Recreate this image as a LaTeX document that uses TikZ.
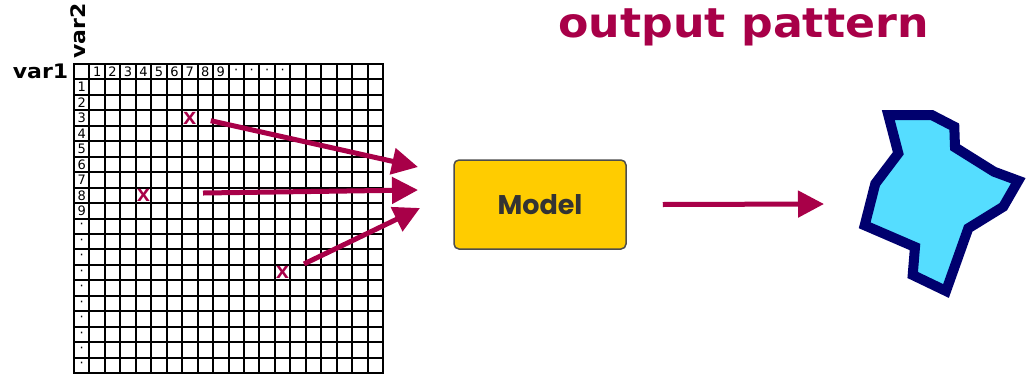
\documentclass[tikz,border=0pt]{standalone}
\usepackage{fontspec}
\usepackage{tikz}
\usetikzlibrary{arrows.meta, positioning}
\newfontfamily\dejavu{DejaVu Sans}
\newfontfamily\poppins{Poppins}
\newfontfamily\monofont{Liberation Mono}
\definecolor{crimson}{RGB}{168,0,72}
\definecolor{gold}{RGB}{255,204,0}
\definecolor{navy}{RGB}{0,0,110}
\definecolor{skyfill}{RGB}{85,221,255}
\definecolor{boxline}{RGB}{77,77,77}
\definecolor{textgray}{RGB}{51,51,51}

\begin{document}
\begin{tikzpicture}[x=1pt, y=-1pt,
    gridline/.style={line width=2pt, line cap=rect},
    cellnum/.style={font=\dejavu\fontsize{13}{13}\selectfont, inner sep=0pt},
    xmark/.style={text=crimson, font=\monofont\bfseries\fontsize{23}{23}\selectfont, inner sep=0pt},
    varlabel/.style={font=\dejavu\bfseries\fontsize{20}{20}\selectfont, inner sep=0pt, anchor=base},
    flow/.style={crimson, line width=5pt, -{Triangle[length=26pt, width=26pt]}},
    modelbox/.style={draw=boxline, fill=gold, line width=1.5pt, rounded corners=5pt,
        minimum width=172pt, minimum height=89pt, text=textgray,
        font=\poppins\bfseries\fontsize{27}{27}\selectfont}
]
    \useasboundingbox (0,0) rectangle (1029,378);

    % 1. Titel und Achsen
    \node[crimson, font=\dejavu\bfseries\fontsize{41}{41}\selectfont, inner sep=0pt, anchor=base]
        (title) at (743.5,37) {\scalebox{1.08}[1]{output pattern}};
    \node[varlabel] (var1) at (40.5,78) {\scalebox{1.1}[1]{var1}};
    \node[varlabel, rotate=90] (var2) at (85,31) {\scalebox{1.1}[1]{var2}};

    % 2. Raster 20 x 20
    \begin{scope}[shift={(74,64)}, x=15.45pt, y=-15.45pt]
        \foreach \i in {0,...,20} {
            \draw[gridline] (\i,0) -- (\i,20);
            \draw[gridline] (0,\i) -- (20,\i);
        }
        \foreach \n in {1,...,9} {
            \node[cellnum] (top\n) at (\n+0.5,0.5) {\n};
            \node[cellnum] (side\n) at (0.5,\n+0.5) {\n};
        }
        \foreach \n in {10,...,13}
            \node[cellnum] (top\n) at (\n+0.5,0.5) {·};
        \foreach \n in {10,...,19}
            \node[cellnum] (side\n) at (0.5,\n+0.5) {·};

        % markierte Zellen
        \node[xmark] (xa) at (7.5,3.5) {x};
        \node[xmark] (xb) at (4.5,8.5) {x};
        \node[xmark] (xc) at (13.5,13.5) {x};

        \coordinate (sa) at (8.85,3.67);
        \coordinate (sb) at (8.35,8.35);
        \coordinate (sc) at (14.89,12.94);
    \end{scope}

    % 3. Modell
    \node[modelbox] (model) at (540,204.5) {Model};
    \coordinate (ta) at (418,167);
    \coordinate (tb) at (418,190);
    \coordinate (tc) at (420,208);
    \coordinate (outtip) at (824,204);

    \draw[flow] (sa) -- (ta);
    \draw[flow] (sb) -- (tb);
    \draw[flow] (sc) -- (tc);
    \draw[flow] ([xshift=36pt]model.east) -- (outtip);

    % 4. Ausgabeform
    \filldraw[draw=navy, fill=skyfill, line width=10pt, line join=miter]
        (888.3,115) -- (931.7,115) -- (954.3,126.7) -- (955,147.3) -- (994,171.7)
        -- (1018.3,180.7) -- (1003.3,206.7) -- (968.3,228.3) -- (946,291)
        -- (912.7,275) -- (915,247) -- (864.7,225.3) -- (875.3,183.7)
        -- (898.3,153.3) -- cycle;
\end{tikzpicture}
\end{document}
